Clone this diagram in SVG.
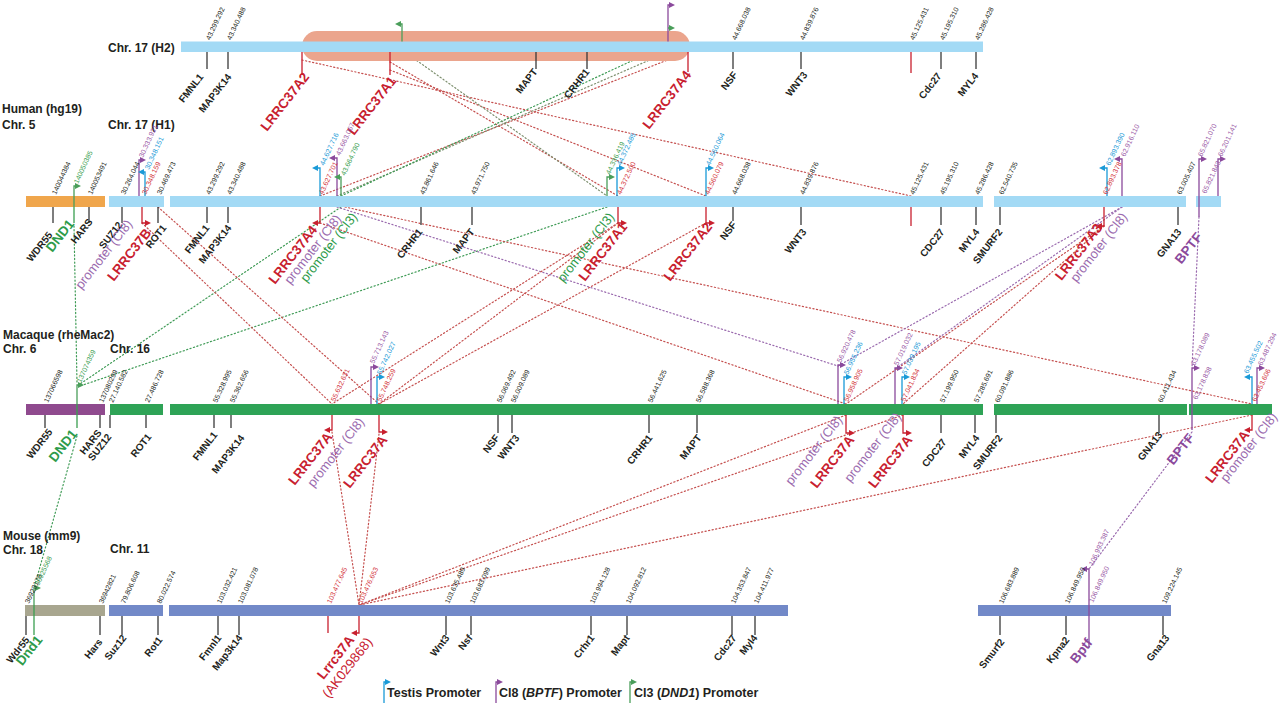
<svg xmlns="http://www.w3.org/2000/svg" width="1280" height="708" viewBox="0 0 1280 708">
<defs>
<marker id="ab" viewBox="0 0 6 6" refX="1" refY="3" markerWidth="6" markerHeight="6" markerUnits="userSpaceOnUse" orient="auto"><path d="M0,0L6,3L0,6z" fill="#1a9ad7"/></marker>
<marker id="ap" viewBox="0 0 6 6" refX="1" refY="3" markerWidth="6" markerHeight="6" markerUnits="userSpaceOnUse" orient="auto"><path d="M0,0L6,3L0,6z" fill="#8b4a9c"/></marker>
<marker id="ag" viewBox="0 0 6 6" refX="1" refY="3" markerWidth="6" markerHeight="6" markerUnits="userSpaceOnUse" orient="auto"><path d="M0,0L6,3L0,6z" fill="#4a9e5a"/></marker>
<marker id="ar" viewBox="0 0 6 6" refX="1" refY="3" markerWidth="6" markerHeight="6" markerUnits="userSpaceOnUse" orient="auto"><path d="M0,0L6,3L0,6z" fill="#c8202f"/></marker>
</defs>
<style>
text{font-family:"Liberation Sans",Arial,Helvetica,sans-serif}
.chr{font-size:12px;font-weight:bold;fill:#231f20}
.g{font-size:10px;font-weight:bold;fill:#231f20;text-anchor:end}
.gr{font-size:13.5px;font-weight:bold;fill:#2e9b4a;text-anchor:end}
.gp{font-size:13.5px;font-weight:bold;fill:#8b4a9c;text-anchor:end}
.r{font-size:13.5px;font-weight:bold;fill:#c8202f;text-anchor:end}
.rn{font-size:13.5px;fill:#c8202f;text-anchor:end}
.p8{font-size:13px;fill:#9a6aae;text-anchor:end}
.p3{font-size:13px;fill:#2e9b4a;text-anchor:end}
.n{font-size:7px;fill:#231f20}
.nr{font-size:7px;fill:#d3323a}
.nb{font-size:7px;fill:#1a9ad7}
.np{font-size:7px;fill:#9a5aa6}
.ng{font-size:7px;fill:#3a9e50}
.tk{stroke:#3a3a3a;stroke-width:1.3;fill:none}
.tr{stroke:#c8202f;stroke-width:1.3;fill:none}
.tg{stroke:#3a9e50;stroke-width:1.3;fill:none}
.fb{stroke:#1a9ad7;stroke-width:1.3;fill:none;marker-end:url(#ab)}
.fp{stroke:#8b4a9c;stroke-width:1.3;fill:none;marker-end:url(#ap)}
.fg{stroke:#4a9e5a;stroke-width:1.3;fill:none;marker-end:url(#ag)}
.fr{stroke:#c8202f;stroke-width:1.3;fill:none;marker-end:url(#ar)}
.d{fill:none;stroke-width:1.2;stroke-dasharray:1.2 2.4;stroke-linecap:round}
.dr{stroke:#c5504f}
.dg{stroke:#3f9b56}
.dp{stroke:#9a6aae}
.dk{stroke:#7d8f6e}
.hb{fill:#a3daf5}
.gb{fill:#2ea356}
.mb{fill:#7289c8}
.lg{font-size:12.5px;font-weight:bold;fill:#231f20}
</style>
<rect width="1280" height="708" fill="#ffffff"/>

<g id="connectors">
<path class="d dr" d="M302,60L911,196"/>
<path class="d dr" d="M390,70L706,196"/>
<path class="d dr" d="M390,62L618,196"/>
<path class="d dr" d="M320,196L688,52"/>
<path class="d dk" d="M337,196L668,52"/>
<path class="d dg" d="M341,196L668,44"/>
<path class="d dk" d="M402,50L607,196"/>
<path class="d dg" d="M74,226L77,383"/>
<path class="d dg" d="M341,207L80,384"/>
<path class="d dg" d="M607,207L80,386"/>
<path class="d dr" d="M142,223L332,404"/>
<path class="d dr" d="M158,207L379,404"/>
<path class="d dr" d="M320,223L846,404"/>
<path class="d dp" d="M337,207L838,366"/>
<path class="d dr" d="M345,207L1252,404"/>
<path class="d dr" d="M618,223L332,404"/>
<path class="d dr" d="M618,223L379,404"/>
<path class="d dr" d="M706,223L379,404"/>
<path class="d dr" d="M1104,226L846,404"/>
<path class="d dr" d="M1104,226L903,404"/>
<path class="d dp" d="M1122,207L838,366"/>
<path class="d dp" d="M1122,207L895,369"/>
<path class="d dp" d="M1199,217L1192,368"/>
<path class="d dg" d="M77,436L34,588"/>
<path class="d dr" d="M332,432L359,605"/>
<path class="d dr" d="M379,434L359,605"/>
<path class="d dr" d="M846,415L359,605"/>
<path class="d dr" d="M903,415L359,605"/>
<path class="d dr" d="M1252,415L359,605"/>
<path class="d dp" d="M1192,432L1089,569"/>
</g>

<g id="row-h2">
<text class="chr" x="108" y="52">Chr. 17 (H2)</text>
<rect x="302" y="31" width="388" height="30" rx="15" fill="#eba58d"/>
<rect class="hb" x="181" y="41.5" width="802" height="10.5"/>
<path class="tk" d="M207,52V69M228,52V69M536,52V69M587,52V69M733,52V69M801,52V69M941,52V69M976,52V69"/>
<path class="tr" d="M302,52V75M390,52V75M688,52V72M911,52V73"/>
<path class="fg" d="M402,41.5V24h-2"/>
<path class="fp" d="M668,41.5V5h2"/>
<path class="fg" d="M668,28h2"/>
<text class="n" transform="translate(210,40.5) rotate(-65)">43.299.292</text>
<text class="n" transform="translate(231,40.5) rotate(-65)">43.340.488</text>
<text class="n" transform="translate(736,40.5) rotate(-65)">44.668.038</text>
<text class="n" transform="translate(804,40.5) rotate(-65)">44.839.876</text>
<text class="n" transform="translate(914,40.5) rotate(-65)">45.125.431</text>
<text class="n" transform="translate(944,40.5) rotate(-65)">45.195.310</text>
<text class="n" transform="translate(979,40.5) rotate(-65)">45.286.428</text>
<text class="g" transform="translate(204,77) rotate(-52)">FMNL1</text>
<text class="g" transform="translate(232,77) rotate(-52)">MAP3K14</text>
<text class="r" transform="translate(310,77) rotate(-52)">LRRC37A2</text>
<text class="r" transform="translate(397,81) rotate(-52)">LRRC37A1</text>
<text class="g" transform="translate(538,72) rotate(-52)">MAPT</text>
<text class="g" transform="translate(590,72) rotate(-52)">CRHR1</text>
<text class="r" transform="translate(692,75) rotate(-52)">LRRC37A4</text>
<text class="g" transform="translate(738,75) rotate(-52)">NSF</text>
<text class="g" transform="translate(808,75) rotate(-52)">WNT3</text>
<text class="g" transform="translate(942,76) rotate(-52)">Cdc27</text>
<text class="g" transform="translate(979,76) rotate(-52)">MYL4</text>
</g>

<g id="row-human">
<text class="chr" x="2" y="113">Human (hg19)</text>
<text class="chr" x="2" y="129">Chr. 5</text>
<text class="chr" x="108" y="129">Chr. 17 (H1)</text>
<rect x="26" y="196" width="79" height="11" fill="#f0a64c"/>
<rect class="hb" x="109" y="196" width="55" height="11"/>
<rect class="hb" x="170" y="196" width="813" height="11"/>
<rect class="hb" x="994" y="196" width="192" height="11"/>
<rect class="hb" x="1196" y="196" width="25" height="11"/>
<path class="tk" d="M53,207V223M89,207V223M122,207V223M158,207V223M207,207V223M228,207V223M421,207V225M472,207V225M733,207V221M801,207V225M941,207V225M976,207V225M1000,207V225M1178,207V225"/>
<path class="tr" d="M911,207V226"/>
<path class="tg" d="M74,207V223"/>
<path class="fg" d="M74,207V186h2"/>
<path class="fp" d="M139,196V160h2"/>
<path class="fb" d="M145,196V172h-2"/>
<path class="fb" d="M320,196V168h-3"/>
<path class="fp" d="M337,196V158h-3"/>
<path class="fg" d="M341,196V177h-2"/>
<path class="fg" d="M607,196V177h3"/>
<path class="fb" d="M617,196V168h3"/>
<path class="fb" d="M706,196V168h3"/>
<path class="fb" d="M1107,196V168h-3"/>
<path class="fp" d="M1122,196V159h-3"/>
<path class="fp" d="M1199,217V159h3"/>
<path class="fp" d="M1218,196V159h3"/>
<path class="fr" d="M142,207V223h4"/>
<path class="fr" d="M320,207V223h-3"/>
<path class="fr" d="M618,207V223h4"/>
<path class="fr" d="M706,207V223h4"/>
<path class="fr" d="M1104,207V226h-3"/>
<text class="n" transform="translate(56,195) rotate(-65)">140044384</text>
<text class="n" transform="translate(92,195) rotate(-65)">140053491</text>
<text class="n" transform="translate(125,195) rotate(-65)">30.264.044</text>
<text class="n" transform="translate(161,195) rotate(-65)">30.469.473</text>
<text class="n" transform="translate(210,195) rotate(-65)">43.299.292</text>
<text class="n" transform="translate(231,195) rotate(-65)">43.340.488</text>
<text class="n" transform="translate(424,195) rotate(-65)">43.861.646</text>
<text class="n" transform="translate(475,195) rotate(-65)">43.971.750</text>
<text class="n" transform="translate(736,195) rotate(-65)">44.668.038</text>
<text class="n" transform="translate(804,195) rotate(-65)">44.839.876</text>
<text class="n" transform="translate(914,195) rotate(-65)">45.125.431</text>
<text class="n" transform="translate(944,195) rotate(-65)">45.195.310</text>
<text class="n" transform="translate(979,195) rotate(-65)">45.286.428</text>
<text class="n" transform="translate(1003,195) rotate(-65)">62.540.735</text>
<text class="n" transform="translate(1181,195) rotate(-65)">63.005.407</text>
<text class="ng" transform="translate(78,184) rotate(-65)">140050385</text>
<text class="np" transform="translate(143,158) rotate(-65)">30.333.921</text>
<text class="nb" transform="translate(149,170) rotate(-65)">30.348.151</text>
<text class="nr" transform="translate(146,195) rotate(-65)">30.348.159</text>
<text class="nb" transform="translate(324,166) rotate(-65)">44.627.716</text>
<text class="nr" transform="translate(323,195) rotate(-65)">43.627.701</text>
<text class="np" transform="translate(340,156) rotate(-65)">43.663.067</text>
<text class="ng" transform="translate(345,176) rotate(-65)">43.664.790</text>
<text class="ng" transform="translate(610,175) rotate(-65)">44.336.419</text>
<text class="nb" transform="translate(621,166) rotate(-65)">44.372.485</text>
<text class="nr" transform="translate(621,195) rotate(-65)">44.372.500</text>
<text class="nb" transform="translate(710,166) rotate(-65)">44.560.064</text>
<text class="nr" transform="translate(709,195) rotate(-65)">44.560.079</text>
<text class="nb" transform="translate(1110,166) rotate(-65)">62.893.390</text>
<text class="nr" transform="translate(1107,195) rotate(-65)">62.893.378</text>
<text class="np" transform="translate(1125,157) rotate(-65)">62.916.110</text>
<text class="np" transform="translate(1202,157) rotate(-65)">65.821.070</text>
<text class="np" transform="translate(1206,194) rotate(-65)">65.821.843</text>
<text class="np" transform="translate(1222,157) rotate(-65)">66.201.141</text>
<text class="g" transform="translate(53,235) rotate(-52)">WDR55</text>
<text class="gr" transform="translate(75,224) rotate(-52)">DND1</text>
<text class="g" transform="translate(93,222) rotate(-52)">HARS</text>
<text class="g" transform="translate(123,225) rotate(-52)">SUZ12</text>
<text class="p8" transform="translate(133,224) rotate(-52)">promoter (Cl8)</text>
<text class="r" transform="translate(152,233) rotate(-52)">LRRC37B</text>
<text class="g" transform="translate(167,228) rotate(-52)">ROT1</text>
<text class="g" transform="translate(210,228) rotate(-52)">FMNL1</text>
<text class="g" transform="translate(232,228) rotate(-52)">MAP3K14</text>
<text class="r" transform="translate(318,230) rotate(-52)">LRRC37A4</text>
<text class="p8" transform="translate(342,219) rotate(-52)">promoter (Cl8)</text>
<text class="p3" transform="translate(358,217) rotate(-52)">promoter (Cl3)</text>
<text class="g" transform="translate(423,232) rotate(-52)">CRHR1</text>
<text class="g" transform="translate(475,232) rotate(-52)">MAPT</text>
<text class="p3" transform="translate(615,217) rotate(-52)">promoter (Cl3)</text>
<text class="r" transform="translate(628,227) rotate(-52)">LRRC37A1</text>
<text class="r" transform="translate(713,227) rotate(-52)">LRRC37A2</text>
<text class="g" transform="translate(737,225) rotate(-52)">NSF</text>
<text class="g" transform="translate(807,232) rotate(-52)">WNT3</text>
<text class="g" transform="translate(945,232) rotate(-52)">CDC27</text>
<text class="g" transform="translate(980,232) rotate(-52)">MYL4</text>
<text class="g" transform="translate(1003,232) rotate(-52)">SMURF2</text>
<text class="r" transform="translate(1103,228) rotate(-52)">LRRc37A3</text>
<text class="p8" transform="translate(1128,217) rotate(-52)">promoter (Cl8)</text>
<text class="g" transform="translate(1182,232) rotate(-52)">GNA13</text>
<text class="gp" transform="translate(1203,237) rotate(-52)">BPTF</text>
</g>

<g id="row-macaque">
<text class="chr" x="3" y="339">Macaque (rheMac2)</text>
<text class="chr" x="3" y="353">Chr. 6</text>
<text class="chr" x="110" y="353">Chr. 16</text>
<rect x="26" y="404" width="79" height="11" fill="#8f4a8e"/>
<rect class="gb" x="110" y="404" width="53" height="11"/>
<rect class="gb" x="170" y="404" width="813" height="11"/>
<rect class="gb" x="994" y="404" width="193" height="11"/>
<rect class="gb" x="1189" y="404" width="83" height="11"/>
<path class="tk" d="M45,415V428M100,415V428M110,415V428M146,415V428M214,415V428M231,415V428M498,415V433M512,415V433M649,415V433M697,415V433M941,415V433M975,415V433M996,415V433M1159,415V433"/>
<path class="tg" d="M77,404V428"/>
<path class="fg" d="M77,404V385h2"/>
<path class="fp" d="M371,404V367h3"/>
<path class="fb" d="M377,404V377h3"/>
<path class="fp" d="M838,404V365h3"/>
<path class="fb" d="M844,404V377h3"/>
<path class="fp" d="M895,404V368h3"/>
<path class="fb" d="M902,404V377h3"/>
<path class="fp" d="M1192,430V368h3"/>
<path class="fb" d="M1252,404V377h-3"/>
<path class="fp" d="M1257,404V368h3"/>
<path class="fr" d="M332,415V430h-3"/>
<path class="fr" d="M379,415V432h4"/>
<path class="fr" d="M846,415V433h4"/>
<path class="fr" d="M903,415V433h4"/>
<path class="fr" d="M1252,415V430h-3"/>
<text class="n" transform="translate(48,403) rotate(-65)">137066598</text>
<text class="n" transform="translate(103,403) rotate(-65)">137080299</text>
<text class="n" transform="translate(113,403) rotate(-65)">27.140.582</text>
<text class="n" transform="translate(149,403) rotate(-65)">27.486.728</text>
<text class="n" transform="translate(217,403) rotate(-65)">55.328.995</text>
<text class="n" transform="translate(234,403) rotate(-65)">55.362.656</text>
<text class="n" transform="translate(501,403) rotate(-65)">56.069.492</text>
<text class="n" transform="translate(515,403) rotate(-65)">56.009.089</text>
<text class="n" transform="translate(652,403) rotate(-65)">56.441.625</text>
<text class="n" transform="translate(700,403) rotate(-65)">56.588.368</text>
<text class="n" transform="translate(944,403) rotate(-65)">57.199.950</text>
<text class="n" transform="translate(978,403) rotate(-65)">57.285.691</text>
<text class="n" transform="translate(999,403) rotate(-65)">60.091.886</text>
<text class="n" transform="translate(1162,403) rotate(-65)">60.411.434</text>
<text class="ng" transform="translate(81,383) rotate(-65)">137074359</text>
<text class="nr" transform="translate(335,402) rotate(-65)">55.632.631</text>
<text class="np" transform="translate(374,364) rotate(-65)">55.713.143</text>
<text class="nb" transform="translate(381,375) rotate(-65)">55.742.027</text>
<text class="nr" transform="translate(381,402) rotate(-65)">55.748.259</text>
<text class="np" transform="translate(841,363) rotate(-65)">56.920.478</text>
<text class="nb" transform="translate(848,375) rotate(-65)">56.955.236</text>
<text class="nr" transform="translate(848,402) rotate(-65)">56.958.905</text>
<text class="np" transform="translate(898,366) rotate(-65)">57.019.032</text>
<text class="nb" transform="translate(906,375) rotate(-65)">57.039.195</text>
<text class="nr" transform="translate(905,402) rotate(-65)">57.041.834</text>
<text class="np" transform="translate(1195,366) rotate(-65)">63.178.089</text>
<text class="np" transform="translate(1197,400) rotate(-65)">63.178.838</text>
<text class="nb" transform="translate(1248,374) rotate(-65)">63.455.502</text>
<text class="np" transform="translate(1262,366) rotate(-65)">63.487.294</text>
<text class="nr" transform="translate(1256,402) rotate(-65)">63.453.606</text>
<text class="g" transform="translate(53,432) rotate(-52)">WDR55</text>
<text class="gr" transform="translate(78,434) rotate(-52)">DND1</text>
<text class="g" transform="translate(102,433) rotate(-52)">HARS</text>
<text class="g" transform="translate(112,437) rotate(-52)">SUZ12</text>
<text class="g" transform="translate(152,437) rotate(-52)">ROT1</text>
<text class="g" transform="translate(218,435) rotate(-52)">FMNL1</text>
<text class="g" transform="translate(245,438) rotate(-52)">MAP3K14</text>
<text class="r" transform="translate(333,437) rotate(-52)">LRRC37A</text>
<text class="p8" transform="translate(365,422) rotate(-52)">promoter (Cl8)</text>
<text class="r" transform="translate(388,440) rotate(-52)">LRRC37A</text>
<text class="g" transform="translate(500,438) rotate(-52)">NSF</text>
<text class="g" transform="translate(520,438) rotate(-52)">WNT3</text>
<text class="g" transform="translate(653,438) rotate(-52)">CRHR1</text>
<text class="g" transform="translate(702,438) rotate(-52)">MAPT</text>
<text class="p8" transform="translate(843,420) rotate(-52)">promoter (Cl8)</text>
<text class="r" transform="translate(855,440) rotate(-52)">LRRC37A</text>
<text class="p8" transform="translate(902,417) rotate(-52)">promoter (Cl8)</text>
<text class="r" transform="translate(913,440) rotate(-52)">LRRC37A</text>
<text class="g" transform="translate(947,442) rotate(-52)">CDC27</text>
<text class="g" transform="translate(980,438) rotate(-52)">MYL4</text>
<text class="g" transform="translate(1003,438) rotate(-52)">SMURF2</text>
<text class="g" transform="translate(1163,435) rotate(-52)">GNA13</text>
<text class="gp" transform="translate(1195,438) rotate(-52)">BPTF</text>
<text class="r" transform="translate(1250,435) rotate(-52)">LRRC37A</text>
<text class="p8" transform="translate(1278,417) rotate(-52)">promoter (Cl8)</text>
</g>

<g id="row-mouse">
<text class="chr" x="3" y="540">Mouse (mm9)</text>
<text class="chr" x="3" y="554">Chr. 18</text>
<text class="chr" x="110" y="553">Chr. 11</text>
<rect x="25" y="605" width="80" height="11" fill="#a8a68f"/>
<rect class="mb" x="109" y="605" width="54" height="11"/>
<rect class="mb" x="169" y="605" width="619" height="11"/>
<rect class="mb" x="978" y="605" width="193" height="11"/>
<path class="tk" d="M26,616V635M100,616V635M122,616V635M158,616V635M218,616V635M239,616V635M446,616V635M471,616V635M591,616V635M627,616V635M732,616V635M755,616V635M1000,616V635M1066,616V635M1163,616V635"/>
<path class="tg" d="M34,605V635"/>
<path class="fg" d="M34,605V588h2"/>
<path class="tr" d="M328,616V633"/>
<path class="fr" d="M359,616V633h-3"/>
<path class="fp" d="M1089,647V569h-3"/>
<text class="n" transform="translate(29,604) rotate(-65)">36923178</text>
<text class="n" transform="translate(103,604) rotate(-65)">36942821</text>
<text class="n" transform="translate(125,604) rotate(-65)">79.806.608</text>
<text class="n" transform="translate(161,604) rotate(-65)">80.022.574</text>
<text class="n" transform="translate(221,604) rotate(-65)">103.032.421</text>
<text class="n" transform="translate(242,604) rotate(-65)">103.081.078</text>
<text class="n" transform="translate(449,604) rotate(-65)">103.635.489</text>
<text class="n" transform="translate(474,604) rotate(-65)">103.683.099</text>
<text class="n" transform="translate(594,604) rotate(-65)">103.994.128</text>
<text class="n" transform="translate(630,604) rotate(-65)">104.092.812</text>
<text class="n" transform="translate(735,604) rotate(-65)">104.353.847</text>
<text class="n" transform="translate(758,604) rotate(-65)">104.411.977</text>
<text class="n" transform="translate(1003,604) rotate(-65)">106.683.889</text>
<text class="n" transform="translate(1069,604) rotate(-65)">106.849.950</text>
<text class="n" transform="translate(1166,604) rotate(-65)">109.224.145</text>
<text class="ng" transform="translate(39,586) rotate(-65)">36925568</text>
<text class="nr" transform="translate(331,604) rotate(-65)">103.477.645</text>
<text class="nr" transform="translate(362,604) rotate(-65)">103.476.653</text>
<text class="np" transform="translate(1093,566) rotate(-65)">106.993.387</text>
<text class="np" transform="translate(1093,603) rotate(-65)">106.849.950</text>
<text class="g" transform="translate(30,640) rotate(-52)">Wdr55</text>
<text class="gr" transform="translate(43,640) rotate(-52)">Dnd1</text>
<text class="g" transform="translate(103,642) rotate(-52)">Hars</text>
<text class="g" transform="translate(127,638) rotate(-52)">Suz12</text>
<text class="g" transform="translate(163,640) rotate(-52)">Rot1</text>
<text class="g" transform="translate(222,638) rotate(-52)">Fmnl1</text>
<text class="g" transform="translate(243,638) rotate(-52)">Map3k14</text>
<text class="r" transform="translate(355,640) rotate(-52)">Lrrc37A</text>
<text class="rn" transform="translate(373,642) rotate(-52)">(AK029868)</text>
<text class="g" transform="translate(450,638) rotate(-52)">Wnt3</text>
<text class="g" transform="translate(473,638) rotate(-52)">Nsf</text>
<text class="g" transform="translate(595,638) rotate(-52)">Crhr1</text>
<text class="g" transform="translate(630,638) rotate(-52)">Mapt</text>
<text class="g" transform="translate(737,638) rotate(-52)">Cdc27</text>
<text class="g" transform="translate(758,638) rotate(-52)">Myl4</text>
<text class="g" transform="translate(1005,642) rotate(-52)">Smurf2</text>
<text class="g" transform="translate(1070,640) rotate(-52)">Kpna2</text>
<text class="gp" transform="translate(1093,643) rotate(-52)">Bptf</text>
<text class="g" transform="translate(1170,638) rotate(-52)">Gna13</text>
</g>

<g id="legend">
<path class="fb" d="M384,703V682h2"/>
<text class="lg" x="387" y="697">Testis Promoter</text>
<path class="fp" d="M496,703V682h2"/>
<text class="lg" x="499" y="697">Cl8 (<tspan font-style="italic">BPTF</tspan>) Promoter</text>
<path class="fg" d="M630,703V682h2"/>
<text class="lg" x="634" y="697">Cl3 (<tspan font-style="italic">DND1</tspan>) Promoter</text>
</g>
</svg>
